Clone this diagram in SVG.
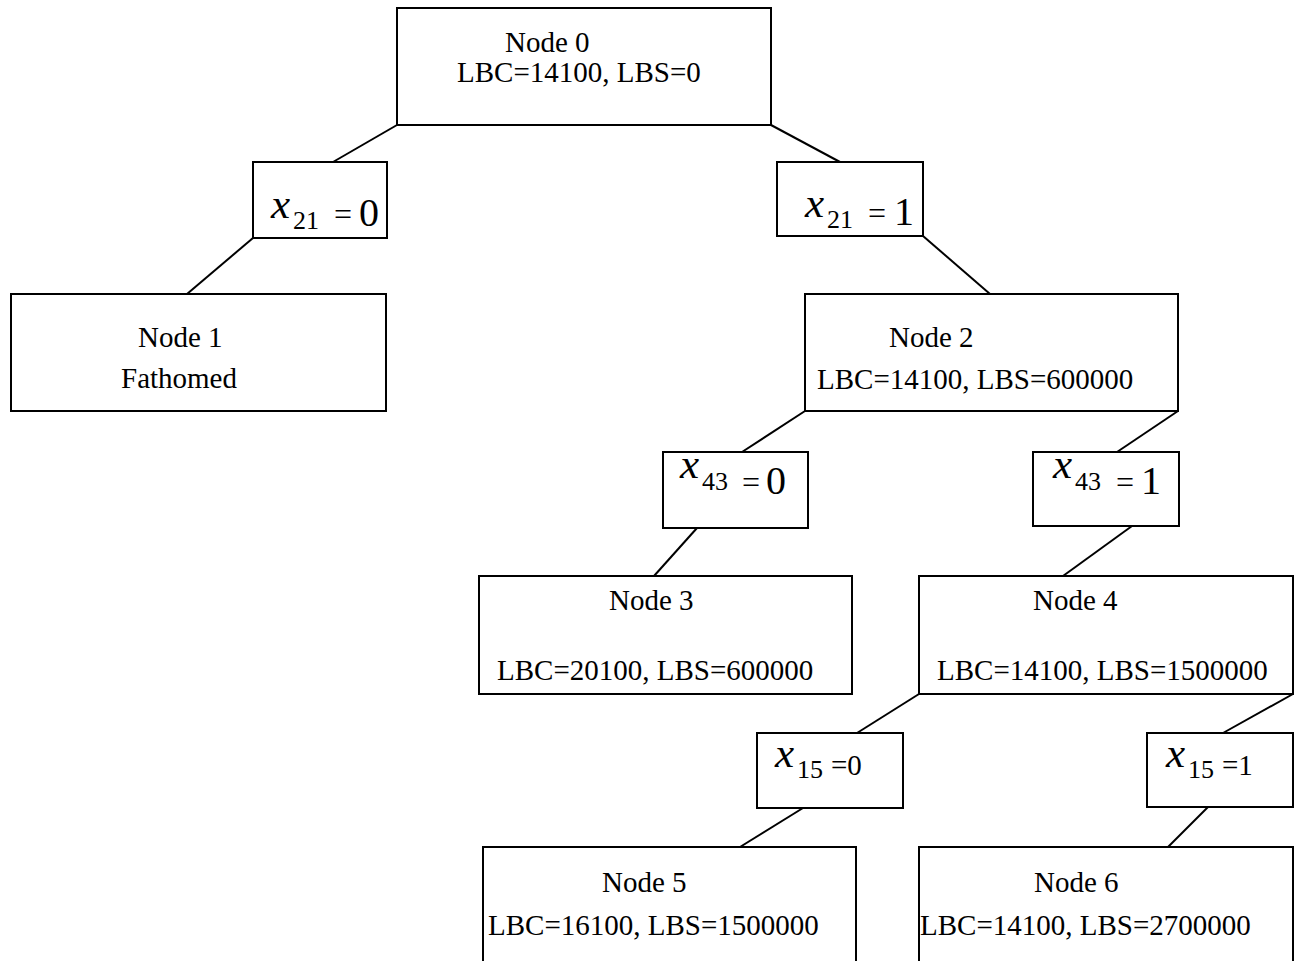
<svg xmlns="http://www.w3.org/2000/svg" width="1294" height="961" viewBox="0 0 1294 961">
<style>
.box{fill:#fff;stroke:#000;stroke-width:2}
.t{font-family:"Liberation Serif","Times New Roman",serif;font-size:29px;fill:#000}
.v{font-family:"Liberation Serif","Times New Roman",serif;font-style:italic;font-size:43px;fill:#000}
.s{font-family:"Liberation Serif","Times New Roman",serif;font-size:26px;fill:#000}
.eq{font-family:"Liberation Serif","Times New Roman",serif;font-size:32px;fill:#000}
.n{font-family:"Liberation Serif","Times New Roman",serif;font-size:40px;fill:#000}
.n2{font-family:"Liberation Serif","Times New Roman",serif;font-size:29px;fill:#000}
.c{stroke:#000;stroke-width:2;fill:none}
</style>
<rect width="1294" height="961" fill="#fff"/>
<g id="connectors">
<line class="c" x1="397" y1="125" x2="333" y2="162"/>
<line class="c" x1="771" y1="125" x2="840" y2="162"/>
<line class="c" x1="253" y1="238" x2="187" y2="294"/>
<line class="c" x1="923" y1="236" x2="990" y2="294"/>
<line class="c" x1="805" y1="411" x2="742" y2="452"/>
<line class="c" x1="1178" y1="411" x2="1117" y2="452"/>
<line class="c" x1="697" y1="528" x2="654" y2="576"/>
<line class="c" x1="1132" y1="526" x2="1063" y2="576"/>
<line class="c" x1="919" y1="694" x2="857" y2="733"/>
<line class="c" x1="1293" y1="694" x2="1223" y2="733"/>
<line class="c" x1="803" y1="808" x2="740" y2="847"/>
<line class="c" x1="1208" y1="807" x2="1168" y2="847"/>
</g>
<g id="node0">
<rect class="box" x="397" y="8" width="374" height="117"/>
<text class="t" x="505" y="52">Node 0</text>
<text class="t" x="457" y="82">LBC=14100, LBS=0</text>
</g>
<g id="branch-x21-0">
<rect class="box" x="253" y="162" width="134" height="76"/>
<text class="v" x="271" y="218">x</text>
<text class="s" x="293" y="229">21</text>
<text class="eq" x="334" y="225">=</text>
<text class="n" x="359" y="226">0</text>
</g>
<g id="branch-x21-1">
<rect class="box" x="777" y="162" width="146" height="74"/>
<text class="v" x="805" y="217">x</text>
<text class="s" x="827" y="228">21</text>
<text class="eq" x="868" y="224">=</text>
<text class="n" x="894" y="225">1</text>
</g>
<g id="node1">
<rect class="box" x="11" y="294" width="375" height="117"/>
<text class="t" x="138" y="347">Node 1</text>
<text class="t" x="121" y="388">Fathomed</text>
</g>
<g id="node2">
<rect class="box" x="805" y="294" width="373" height="117"/>
<text class="t" x="889" y="347">Node 2</text>
<text class="t" x="817" y="389">LBC=14100, LBS=600000</text>
</g>
<g id="branch-x43-0">
<rect class="box" x="663" y="452" width="145" height="76"/>
<text class="v" x="680" y="478">x</text>
<text class="s" x="702" y="490">43</text>
<text class="eq" x="742" y="493">=</text>
<text class="n" x="766" y="494">0</text>
</g>
<g id="branch-x43-1">
<rect class="box" x="1033" y="452" width="146" height="74"/>
<text class="v" x="1053" y="478">x</text>
<text class="s" x="1075" y="490">43</text>
<text class="eq" x="1116" y="493">=</text>
<text class="n" x="1141" y="494">1</text>
</g>
<g id="node3">
<rect class="box" x="479" y="576" width="373" height="118"/>
<text class="t" x="609" y="610">Node 3</text>
<text class="t" x="497" y="680">LBC=20100, LBS=600000</text>
</g>
<g id="node4">
<rect class="box" x="919" y="576" width="374" height="118"/>
<text class="t" x="1033" y="610">Node 4</text>
<text class="t" x="937" y="680">LBC=14100, LBS=1500000</text>
</g>
<g id="branch-x15-0">
<rect class="box" x="757" y="733" width="146" height="75"/>
<text class="v" x="775" y="767">x</text>
<text class="s" x="797" y="778">15</text>
<text class="n2" x="831" y="775">=0</text>
</g>
<g id="branch-x15-1">
<rect class="box" x="1147" y="733" width="146" height="74"/>
<text class="v" x="1166" y="767">x</text>
<text class="s" x="1188" y="778">15</text>
<text class="n2" x="1222" y="775">=1</text>
</g>
<g id="node5">
<rect class="box" x="483" y="847" width="373" height="130"/>
<text class="t" x="602" y="892">Node 5</text>
<text class="t" x="488" y="935">LBC=16100, LBS=1500000</text>
</g>
<g id="node6">
<rect class="box" x="919" y="847" width="374" height="130"/>
<text class="t" x="1034" y="892">Node 6</text>
<text class="t" x="920" y="935">LBC=14100, LBS=2700000</text>
</g>
</svg>
